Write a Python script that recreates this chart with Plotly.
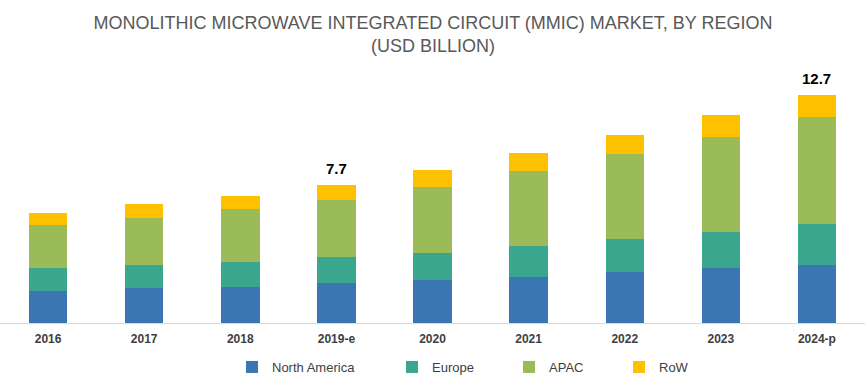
import plotly.graph_objects as go

years = ["2016", "2017", "2018", "2019-e", "2020", "2021", "2022", "2023", "2024-p"]
north_america = [1.80, 1.93, 2.02, 2.23, 2.37, 2.58, 2.84, 3.06, 3.25]
europe = [1.28, 1.30, 1.38, 1.45, 1.53, 1.73, 1.84, 2.01, 2.25]
apac = [2.38, 2.62, 2.94, 3.19, 3.68, 4.14, 4.74, 5.31, 5.98]
row = [0.65, 0.76, 0.74, 0.83, 0.92, 1.02, 1.04, 1.19, 1.22]
labelled = {"2019-e": "7.7", "2024-p": "12.7"}

series = [
    ("North America", north_america, "#3A75B4", "legend"),
    ("Europe", europe, "#3BA68E", "legend2"),
    ("APAC", apac, "#9BBB59", "legend3"),
    ("RoW", row, "#FFC000", "legend4"),
]

FONT = "Liberation Sans Narrow, Arial Narrow, Liberation Sans, Arial, sans-serif"

fig = go.Figure()
for name, vals, color, lg in series:
    fig.add_trace(go.Bar(
        x=years, y=vals, name=name, marker=dict(color=color, line=dict(width=0)),
        legend=lg,
    ))

totals = [a + b + c + d for a, b, c, d in zip(north_america, europe, apac, row)]
for yr, tot in zip(years, totals):
    if yr in labelled:
        fig.add_annotation(x=yr, y=tot, text="<b>%s</b>" % labelled[yr], showarrow=False,
                           yanchor="bottom", yshift=6,
                           font=dict(family=FONT, size=15, color="#000000"))

W, H = 866, 383
ml, mr, mt, mb = 0, 1, 60, 60
pw = W - ml - mr
ph = H - mt - mb
px_per_unit = 17.95

def leg(xc):
    return dict(x=(xc - 21 - ml) / pw, y=(H - mb - 367) / ph, xanchor="left", yanchor="middle",
                orientation="h", bgcolor="rgba(0,0,0,0)",
                font=dict(family=FONT, size=13, color="#404040"))

fig.update_layout(
    width=W, height=H,
    margin=dict(l=ml, r=mr, t=mt, b=mb),
    barmode="stack", bargap=0.6,
    plot_bgcolor="white", paper_bgcolor="white",
    title=dict(text="MONOLITHIC MICROWAVE INTEGRATED CIRCUIT (MMIC) MARKET, BY REGION<br>(USD BILLION)",
               x=0.5, xanchor="center", y=1 - 29 / H, yanchor="top",
               font=dict(family=FONT, size=18, color="#595959")),
    xaxis=dict(showline=True, linecolor="#D9D9D9", linewidth=1, ticks="", showgrid=False,
               tickfont=dict(family=FONT, size=12, color="#404040"), ticklabelstandoff=5,
               tickprefix="<b>", ticksuffix="</b>"),
    yaxis=dict(visible=False, range=[0, ph / px_per_unit]),
    legend=leg(253),
    legend2=leg(413),
    legend3=leg(530),
    legend4=leg(640),
    showlegend=True,
)

fig.write_html("out.html", config={"displayModeBar": False},
               post_script="document.body.style.margin='0';")
